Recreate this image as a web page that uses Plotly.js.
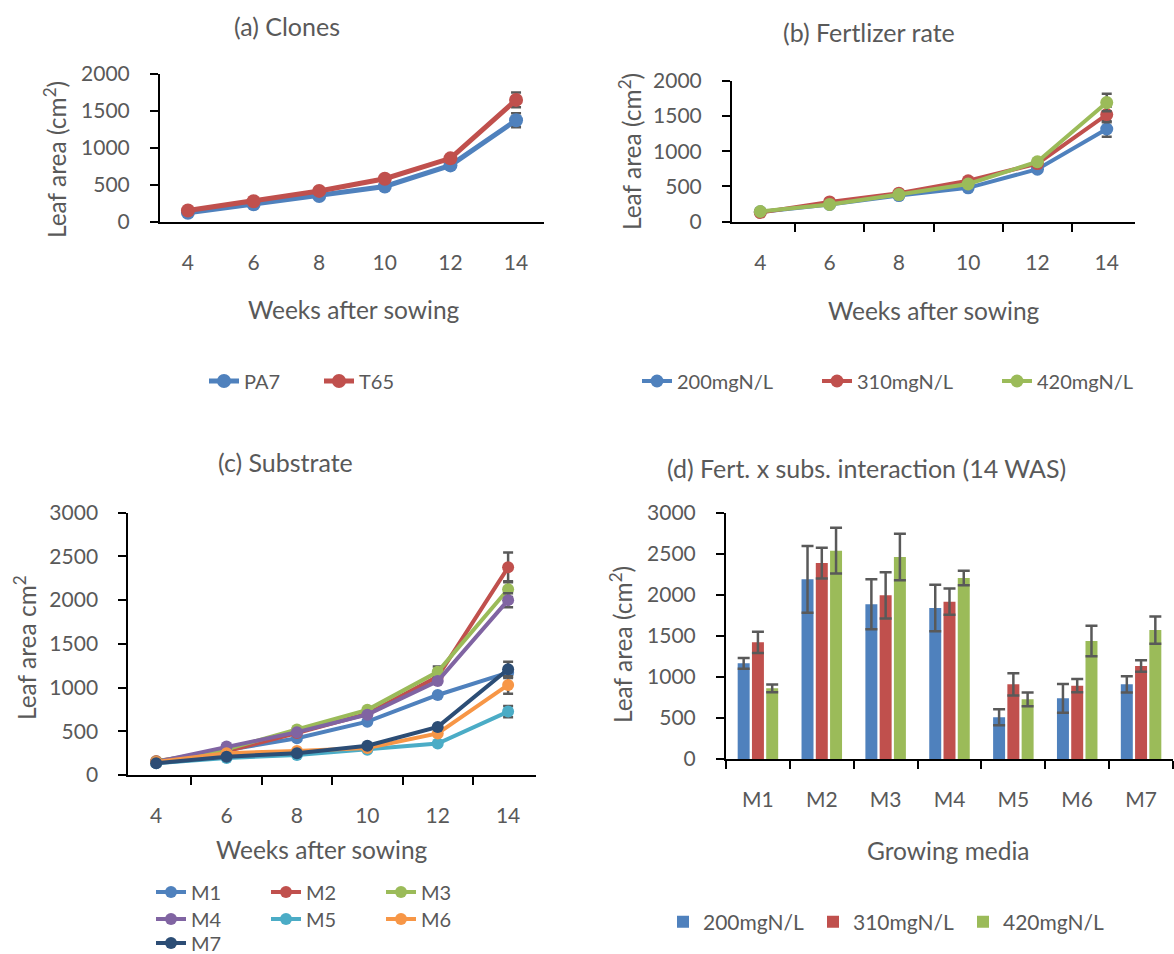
<!DOCTYPE html>
<html>
<head>
<meta charset="utf-8">
<script src="https://cdn.plot.ly/plotly-3.0.1.min.js"></script>
<style>
  html, body { margin: 0; padding: 0; background: #fff; }
  #chart { width: 1174px; height: 954px; }
</style>
</head>
<body>
<div id="chart"></div>
<script>
// Leaf area over time by clone, fertilizer rate and substrate, plus the
// fertilizer x substrate interaction at 14 weeks after sowing.

const weeks = ['4', '6', '8', '10', '12', '14'];

// (a) clones
const clonePA7 = [125, 240, 350, 480, 765, 1375];
const cloneT65 = [155, 280, 420, 585, 860, 1650];
const clonePA7Err = [0, 0, 0, 0, 0, 95];
const cloneT65Err = [0, 0, 0, 0, 0, 100];

// (b) fertilizer rate
const fertLabels = ['200mgN/L', '310mgN/L', '420mgN/L'];
const fert200 = [140, 245, 370, 480, 745, 1315];
const fert310 = [130, 280, 405, 580, 825, 1520];
const fert420 = [145, 245, 385, 535, 850, 1690];
const fert200Err = [0, 0, 0, 0, 0, 110];
const fert310Err = [0, 0, 0, 0, 0, 110];
const fert420Err = [0, 0, 0, 0, 0, 125];

// (c) substrate
const media = ['M1', 'M2', 'M3', 'M4', 'M5', 'M6', 'M7'];
const subM1 = [150, 285, 420, 610, 915, 1170];
const subM2 = [160, 270, 480, 700, 1125, 2375];
const subM3 = [155, 295, 520, 745, 1180, 2125];
const subM4 = [150, 325, 490, 690, 1075, 2000];
const subM5 = [135, 195, 230, 290, 360, 725];
const subM6 = [150, 250, 275, 310, 475, 1030];
const subM7 = [135, 210, 250, 335, 550, 1210];
const subM1Err = [0, 0, 0, 0, 0, 60];
const subM2Err = [0, 0, 0, 0, 0, 170];
const subM3Err = [0, 0, 0, 0, 60, 90];
const subM4Err = [0, 0, 0, 0, 0, 80];
const subM5Err = [0, 0, 0, 0, 0, 65];
const subM6Err = [0, 0, 0, 0, 0, 100];
const subM7Err = [0, 0, 0, 0, 0, 85];

// (d) fertilizer x substrate at 14 WAS
const int200 = [1165, 2188, 1884, 1839, 508, 739, 909];
const int310 = [1421, 2387, 1994, 1916, 909, 893, 1133];
const int420 = [861, 2538, 2460, 2205, 727, 1437, 1571];
const int200Err = [65, 406, 305, 282, 97, 175, 100];
const int310Err = [130, 187, 282, 160, 136, 81, 71];
const int420Err = [47, 280, 284, 89, 83, 185, 166];

const W = 1174, H = 954;
const px = x => x / W;
const py = y => 1 - y / H;

const FONT = 'Lato, "Open Sans", sans-serif';
const GREY = '#595959';
const ERR = '#595959';
const C = {
  blue: '#4F81BD', red: '#C0504D', green: '#9BBB59', purple: '#8064A2',
  aqua: '#4BACC6', orange: '#F79646', navy: '#2C4D75'
};

function lineTrace(name, y, err, color, xa, ya, legend, lw, ms) {
  return {
    type: 'scatter', mode: 'lines+markers', name: name,
    x: weeks, y: y, xaxis: xa, yaxis: ya, legend: legend,
    line: { color: color, width: lw },
    marker: { color: color, size: ms },
    error_y: { type: 'data', array: err, visible: true, color: ERR, thickness: 2.5, width: 5 },
    hoverinfo: 'x+y+name'
  };
}

function barTrace(name, y, err, color, legend) {
  return {
    type: 'bar', name: name, x: media, y: y, xaxis: 'x4', yaxis: 'y4', legend: legend,
    marker: { color: color, line: { width: 0 } },
    error_y: { type: 'data', array: err, visible: true, color: ERR, thickness: 2.5, width: 6 }
  };
}

const traces = [
  lineTrace('PA7', clonePA7, clonePA7Err, C.blue, 'x', 'y', 'legend', 5, 14),
  lineTrace('T65', cloneT65, cloneT65Err, C.red, 'x', 'y', 'legend', 5, 14),

  lineTrace(fertLabels[0], fert200, fert200Err, C.blue, 'x2', 'y2', 'legend2', 4, 13),
  lineTrace(fertLabels[1], fert310, fert310Err, C.red, 'x2', 'y2', 'legend2', 4, 13),
  lineTrace(fertLabels[2], fert420, fert420Err, C.green, 'x2', 'y2', 'legend2', 4, 13),

  lineTrace(media[0], subM1, subM1Err, C.blue, 'x3', 'y3', 'legend3', 4, 12),
  lineTrace(media[1], subM2, subM2Err, C.red, 'x3', 'y3', 'legend3', 4, 12),
  lineTrace(media[2], subM3, subM3Err, C.green, 'x3', 'y3', 'legend3', 4, 12),
  lineTrace(media[3], subM4, subM4Err, C.purple, 'x3', 'y3', 'legend4', 4, 12),
  lineTrace(media[4], subM5, subM5Err, C.aqua, 'x3', 'y3', 'legend4', 4, 12),
  lineTrace(media[5], subM6, subM6Err, C.orange, 'x3', 'y3', 'legend4', 4, 12),
  lineTrace(media[6], subM7, subM7Err, C.navy, 'x3', 'y3', 'legend5', 4, 12),

  barTrace(fertLabels[0], int200, int200Err, C.blue, 'legend6'),
  barTrace(fertLabels[1], int310, int310Err, C.red, 'legend6'),
  barTrace(fertLabels[2], int420, int420Err, C.green, 'legend6')
];

const tickFont = { family: FONT, size: 21, color: GREY };

function xAxis(domain, anchor, withTicks) {
  return {
    domain: domain, anchor: anchor, type: 'category',
    showline: true, linecolor: '#000', linewidth: 2,
    ticks: withTicks ? 'outside' : '', tickson: 'boundaries',
    ticklen: 8, tickwidth: 2, tickcolor: '#000',
    showgrid: false, zeroline: false, fixedrange: true,
    tickfont: tickFont, ticklabelstandoff: 21
  };
}
function yAxis(domain, anchor, max) {
  return {
    domain: domain, anchor: anchor, range: [0, max], dtick: 500,
    showline: true, linecolor: '#000', linewidth: 2,
    ticks: 'outside', ticklen: 8, tickwidth: 2, tickcolor: '#000',
    showgrid: false, zeroline: false, fixedrange: true,
    tickfont: tickFont, ticklabelstandoff: 16
  };
}

function text(t, x, y, size, angle) {
  return {
    text: t, x: px(x), y: py(y), xref: 'paper', yref: 'paper',
    xanchor: 'center', yanchor: 'middle', showarrow: false,
    textangle: angle || 0, font: { family: FONT, size: size, color: GREY }
  };
}

function legendAt(x, y, entrywidth, size) {
  return {
    orientation: 'h', x: px(x), y: py(y), xanchor: 'left', yanchor: 'middle',
    xref: 'paper', yref: 'paper', bgcolor: 'rgba(0,0,0,0)', borderwidth: 0,
    entrywidth: entrywidth, entrywidthmode: 'pixels',
    font: { family: FONT, size: size || 20, color: GREY }, traceorder: 'normal'
  };
}

const layout = {
  width: W, height: H,
  margin: { l: 0, r: 0, t: 0, b: 0, autoexpand: false },
  paper_bgcolor: '#fff', plot_bgcolor: '#fff',
  font: { family: FONT, color: GREY },
  showlegend: true,
  barmode: 'group', bargap: 0.33, bargroupgap: 0.16,

  xaxis:  xAxis([px(160), px(544)], 'y', false),
  yaxis:  yAxis([py(222), py(74)], 'x', 2000),
  xaxis2: xAxis([px(732), px(1135)], 'y2', true),
  yaxis2: yAxis([py(221.7), py(80.7)], 'x2', 2000),
  xaxis3: xAxis([px(128.3), px(536)], 'y3', true),
  yaxis3: yAxis([py(775), py(512.7)], 'x3', 3000),
  xaxis4: xAxis([px(726), px(1173)], 'y4', true),
  yaxis4: yAxis([py(759), py(512.7)], 'x4', 3000),

  legend:  legendAt(204, 381, 70),
  legend2: legendAt(637, 381, 135),
  legend3: legendAt(151, 892, 70),
  legend4: legendAt(151, 919, 70),
  legend5: legendAt(151, 943, 70),
  legend6: legendAt(663, 922, 105, 21),

  annotations: [
    text('(a) Clones', 287, 26, 25),
    text('(b) Fertlizer rate', 869, 32, 25),
    text('(c) Substrate', 285, 462, 25),
    text('(d) Fert. x subs. interaction (14 WAS)', 866, 468, 25),

    text('Leaf area (cm<sup>2</sup>)', 55, 160, 24.5, -90),
    text('Leaf area (cm<sup>2</sup>)', 630, 152, 24.5, -90),
    text('Leaf area cm<sup>2</sup>', 25, 648, 24.5, -90),
    text('Leaf area (cm<sup>2</sup>)', 621, 645, 24.5, -90),

    text('Weeks after sowing', 354, 309, 24.5),
    text('Weeks after sowing', 934, 311, 24.5),
    text('Weeks after sowing', 322, 849, 24.5),
    text('Growing media', 948, 850, 24.5)
  ]
};

Plotly.newPlot('chart', traces, layout, { displayModeBar: false, staticPlot: true });
</script>
</body>
</html>
